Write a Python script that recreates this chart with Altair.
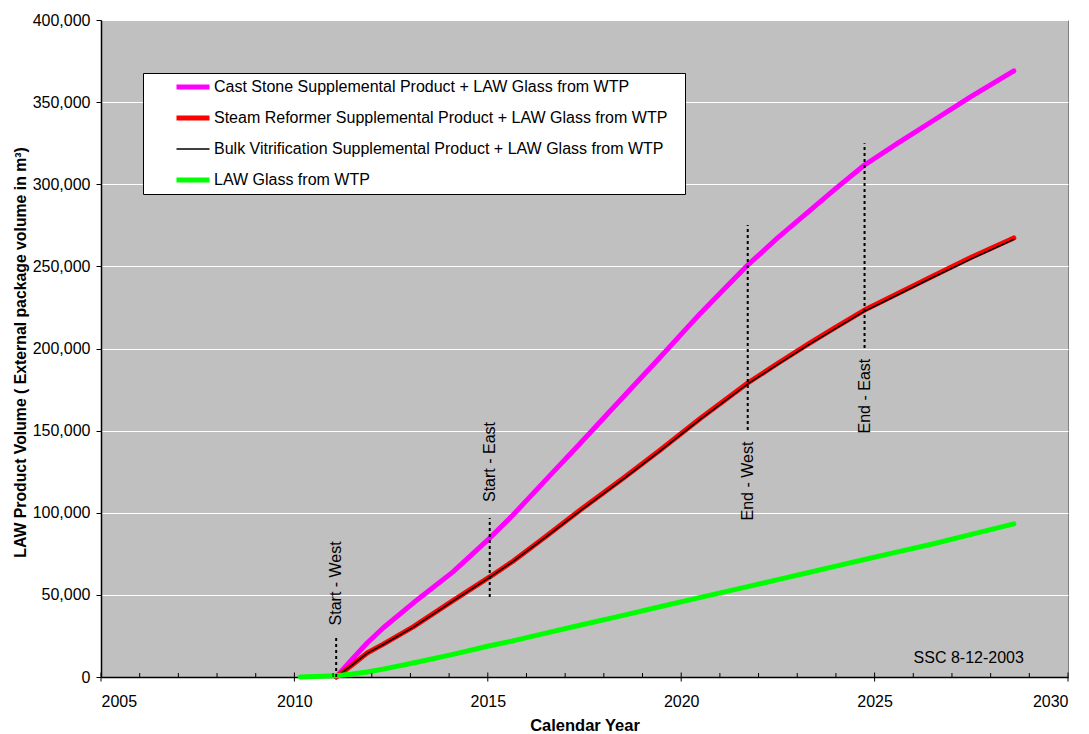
import altair as alt
import pandas as pd

FONT = "Liberation Sans"

series_names = [
    "Cast Stone Supplemental Product + LAW Glass from WTP",
    "Steam Reformer Supplemental Product + LAW Glass from WTP",
    "Bulk Vitrification Supplemental Product + LAW Glass from WTP",
    "LAW Glass from WTP",
]
series_colors = ["#FF00FF", "#FF0000", "#000000", "#00FF00"]
series_widths = [5, 5, 1.5, 5]

years = [2011.08, 2011.5, 2011.88, 2012.3, 2013.07, 2014.1, 2015.05, 2015.65,
         2016.5, 2017.38, 2018.5, 2019.45, 2020.5, 2021.72, 2022.5, 2023.3,
         2024.0, 2024.74, 2025.6, 2026.5, 2027.5, 2028.6]
cast_stone = [0, 11000, 20700, 30000, 45000, 64000, 84600, 98600,
              120000, 142000, 170500, 194500, 221500, 250800, 267500, 283500,
              297500, 311700, 325000, 338500, 353500, 369000]
steam_reformer = [0, 7500, 14600, 20000, 30500, 46500, 60900, 70500,
                  85500, 101500, 121000, 138000, 157500, 179000, 191000, 203000,
                  213000, 223400, 233500, 244000, 255500, 267300]
bulk_vitrification = [0, 7400, 14400, 19800, 30200, 46200, 60600, 70200,
                      85100, 101000, 120500, 137500, 157000, 178400, 190400, 202300,
                      212300, 222700, 232700, 243200, 254600, 266400]
glass_years = [2010.15] + years
law_glass = [0, 800, 1800, 3000, 4800, 8500, 13800, 19000, 22000,
             26700, 31500, 37500, 42800, 48500, 55000, 59300, 63600,
             67500, 71500, 76200, 81000, 86800, 93200]

marker_years = [2011.08, 2015.05, 2021.72, 2024.74]
marker_bottom = [0, 48700, 150400, 200300]
marker_top = [24400, 96800, 275200, 325000]
marker_labels = ["Start - West", "Start - East", "End - West", "End - East"]
marker_label_y = [57000, 130900, 119300, 171000]

major_ticks = [2005, 2010, 2015, 2020, 2025, 2030]
minor_ticks = [y for y in range(2006, 2030) if y % 5 != 0]
y_ticks = [0, 50000, 100000, 150000, 200000, 250000, 300000, 350000, 400000]

note_text = ["SSC 8-12-2003"]
note_year = [2028.86]
note_value = [11600]

rows = []
for name, xs, vs in [
    (series_names[0], years, cast_stone),
    (series_names[1], years, steam_reformer),
    (series_names[2], years, bulk_vitrification),
    (series_names[3], glass_years, law_glass),
]:
    for x, v in zip(xs, vs):
        rows.append({"series": name, "year": x, "value": v})
lines_df = pd.DataFrame(rows)

markers_df = pd.DataFrame({"year": marker_years, "value": marker_bottom,
                           "value2": marker_top})
labels_df = pd.DataFrame({"year": marker_years, "value": marker_label_y,
                          "label": marker_labels})
note_df = pd.DataFrame({"year": note_year, "value": note_value, "label": note_text})
major_df = pd.DataFrame({"year": major_ticks, "value": [0] * len(major_ticks)})
minor_df = pd.DataFrame({"year": minor_ticks, "value": [0] * len(minor_ticks)})

xscale = alt.Scale(domain=[2005, 2030], nice=False, zero=False)
yscale = alt.Scale(domain=[0, 400000], nice=False)

legend = alt.Legend(
    title=" ", titleOrient="right", titlePadding=12, titleFontSize=10,
    orient="none", legendX=42, legendY=53,
    symbolType="stroke", symbolSize=1089, labelFontSize=16, labelFont=FONT,
    labelColor="#000000", fillColor="#FFFFFF", strokeColor="#000000",
    padding=6, symbolOffset=25, rowPadding=15, clipHeight=16,
    labelOffset=2, labelLimit=0,
)

main_x_axis = alt.Axis(
    values=major_ticks, format="d", ticks=False, domain=True,
    domainColor="#000000", domainWidth=1.5, grid=False,
    labelFont=FONT, labelFontSize=16, labelColor="#000000", labelPadding=16,
    title="Calendar Year", titleFont=FONT, titleFontSize=16.5, titleFontWeight="bold",
    titleColor="#000000", titleY=48, titleBaseline="middle",
)
y_axis = alt.Axis(
    values=y_ticks, format=",d", tickColor="#000000", tickSize=5, tickWidth=1,
    domainColor="#000000", domainWidth=1.5, grid=True, gridColor="#FFFFFF",
    gridWidth=1, labelFont=FONT, labelFontSize=16, labelColor="#000000",
    labelPadding=6,
    title="LAW Product Volume ( External package volume in m³)",
    titleFont=FONT, titleFontSize=15.8, titleFontWeight="bold", titleColor="#000000",
    titleX=-81, titleY=332, titleAngle=270, titleBaseline="middle",
    titleAlign="center",
)


def line_layer(name, xaxis):
    return alt.Chart(lines_df).transform_filter(
        alt.datum.series == name
    ).mark_line(strokeCap="round", strokeJoin="round").encode(
        x=alt.X("year:Q", scale=xscale, axis=xaxis),
        y=alt.Y("value:Q", scale=yscale, axis=y_axis),
        color=alt.Color("series:N", scale=alt.Scale(domain=series_names,
                                                    range=series_colors),
                        legend=legend),
        strokeWidth=alt.StrokeWidth("series:N",
                                    scale=alt.Scale(type="ordinal",
                                                    domain=series_names,
                                                    range=series_widths),
                                    legend=legend),
    )


layers = [
    line_layer(series_names[0], main_x_axis),
    line_layer(series_names[1], None),
    line_layer(series_names[2], None),
    line_layer(series_names[3], None),
]

major_marks = alt.Chart(major_df).mark_tick(
    orient="vertical", size=9, thickness=1, color="#000000", opacity=1
).encode(
    x=alt.X("year:Q", scale=xscale, axis=None),
    y=alt.Y("value:Q", scale=yscale),
)

minor_marks = alt.Chart(minor_df).mark_tick(
    orient="vertical", size=4, thickness=1, color="#000000", opacity=1, yOffset=-2
).encode(
    x=alt.X("year:Q", scale=xscale, axis=None),
    y=alt.Y("value:Q", scale=yscale),
)

rules = alt.Chart(markers_df).mark_rule(
    color="#000000", strokeWidth=2, strokeDash=[3, 3]
).encode(
    x=alt.X("year:Q", scale=xscale, axis=None),
    y=alt.Y("value:Q", scale=yscale),
    y2="value2:Q",
)

labels = alt.Chart(labels_df).mark_text(
    angle=270, font=FONT, fontSize=16, color="#000000",
    align="center", baseline="middle"
).encode(
    x=alt.X("year:Q", scale=xscale, axis=None),
    y=alt.Y("value:Q", scale=yscale),
    text="label:N",
)

note = alt.Chart(note_df).mark_text(
    font=FONT, fontSize=16, color="#000000", align="right", baseline="middle"
).encode(
    x=alt.X("year:Q", scale=xscale, axis=None),
    y=alt.Y("value:Q", scale=yscale),
    text="label:N",
)

chart = alt.layer(*layers, rules, labels, note, major_marks, minor_marks).resolve_axis(
    x="independent"
).properties(
    width=967, height=657,
    autosize=alt.AutoSizeParams(type="none"),
    padding={"left": 101, "top": 20, "right": 21, "bottom": 57},
    background="#FFFFFF",
).configure_view(
    fill="#C0C0C0", stroke="#808080", strokeWidth=1
)

chart.save("out.html", embed_options={"renderer": "svg", "actions": False})
